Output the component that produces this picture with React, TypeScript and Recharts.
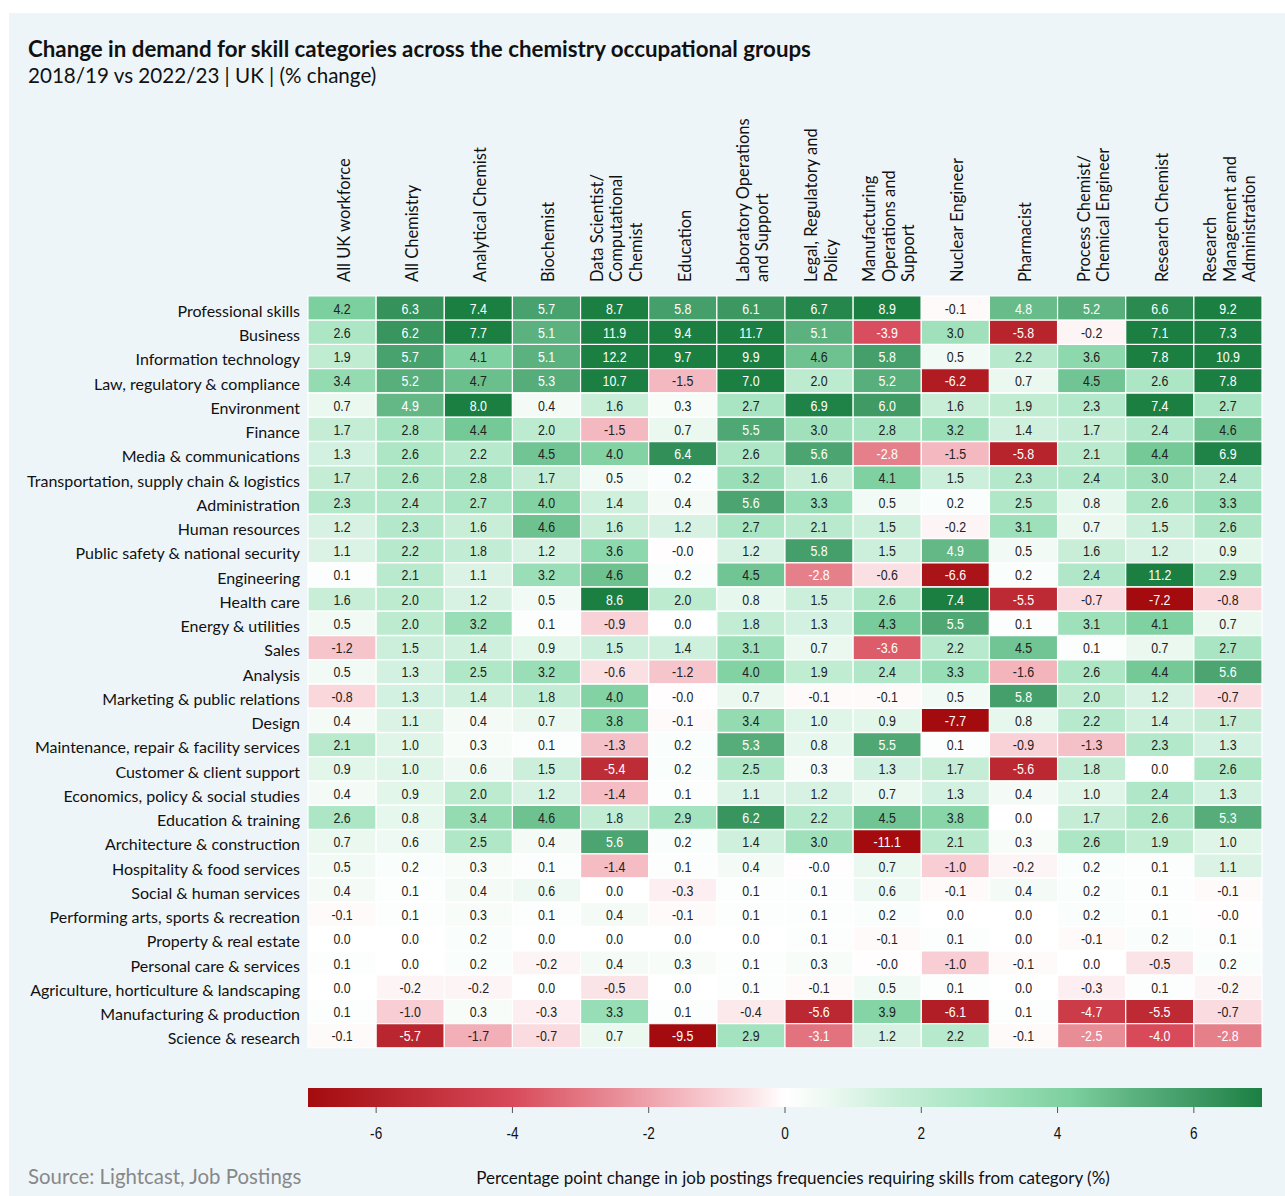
import { Bar, BarChart, Cell, LabelList, XAxis, YAxis } from "recharts";

const SKILLS = [
  "Professional skills",
  "Business",
  "Information technology",
  "Law, regulatory & compliance",
  "Environment",
  "Finance",
  "Media & communications",
  "Transportation, supply chain & logistics",
  "Administration",
  "Human resources",
  "Public safety & national security",
  "Engineering",
  "Health care",
  "Energy & utilities",
  "Sales",
  "Analysis",
  "Marketing & public relations",
  "Design",
  "Maintenance, repair & facility services",
  "Customer & client support",
  "Economics, policy & social studies",
  "Education & training",
  "Architecture & construction",
  "Hospitality & food services",
  "Social & human services",
  "Performing arts, sports & recreation",
  "Property & real estate",
  "Personal care & services",
  "Agriculture, horticulture & landscaping",
  "Manufacturing & production",
  "Science & research",
];

// column headers, already split into the lines they are drawn on
const GROUPS = [
  ["All UK workforce"],
  ["All Chemistry"],
  ["Analytical Chemist"],
  ["Biochemist"],
  ["Data Scientist/", "Computational", "Chemist"],
  ["Education"],
  ["Laboratory Operations", "and Support"],
  ["Legal, Regulatory and", "Policy"],
  ["Manufacturing", "Operations and", "Support"],
  ["Nuclear Engineer"],
  ["Pharmacist"],
  ["Process Chemist/", "Chemical Engineer"],
  ["Research Chemist"],
  ["Research", "Management and", "Administration"],
];

// one list per skill row, same order as GROUPS (-0.04 shows as "-0.0")
const CHANGES = [
  [4.2, 6.3, 7.4, 5.7, 8.7, 5.8, 6.1, 6.7, 8.9, -0.1, 4.8, 5.2, 6.6, 9.2],
  [2.6, 6.2, 7.7, 5.1, 11.9, 9.4, 11.7, 5.1, -3.9, 3.0, -5.8, -0.2, 7.1, 7.3],
  [1.9, 5.7, 4.1, 5.1, 12.2, 9.7, 9.9, 4.6, 5.8, 0.5, 2.2, 3.6, 7.8, 10.9],
  [3.4, 5.2, 4.7, 5.3, 10.7, -1.5, 7.0, 2.0, 5.2, -6.2, 0.7, 4.5, 2.6, 7.8],
  [0.7, 4.9, 8.0, 0.4, 1.6, 0.3, 2.7, 6.9, 6.0, 1.6, 1.9, 2.3, 7.4, 2.7],
  [1.7, 2.8, 4.4, 2.0, -1.5, 0.7, 5.5, 3.0, 2.8, 3.2, 1.4, 1.7, 2.4, 4.6],
  [1.3, 2.6, 2.2, 4.5, 4.0, 6.4, 2.6, 5.6, -2.8, -1.5, -5.8, 2.1, 4.4, 6.9],
  [1.7, 2.6, 2.8, 1.7, 0.5, 0.2, 3.2, 1.6, 4.1, 1.5, 2.3, 2.4, 3.0, 2.4],
  [2.3, 2.4, 2.7, 4.0, 1.4, 0.4, 5.6, 3.3, 0.5, 0.2, 2.5, 0.8, 2.6, 3.3],
  [1.2, 2.3, 1.6, 4.6, 1.6, 1.2, 2.7, 2.1, 1.5, -0.2, 3.1, 0.7, 1.5, 2.6],
  [1.1, 2.2, 1.8, 1.2, 3.6, -0.04, 1.2, 5.8, 1.5, 4.9, 0.5, 1.6, 1.2, 0.9],
  [0.1, 2.1, 1.1, 3.2, 4.6, 0.2, 4.5, -2.8, -0.6, -6.6, 0.2, 2.4, 11.2, 2.9],
  [1.6, 2.0, 1.2, 0.5, 8.6, 2.0, 0.8, 1.5, 2.6, 7.4, -5.5, -0.7, -7.2, -0.8],
  [0.5, 2.0, 3.2, 0.1, -0.9, 0.0, 1.8, 1.3, 4.3, 5.5, 0.1, 3.1, 4.1, 0.7],
  [-1.2, 1.5, 1.4, 0.9, 1.5, 1.4, 3.1, 0.7, -3.6, 2.2, 4.5, 0.1, 0.7, 2.7],
  [0.5, 1.3, 2.5, 3.2, -0.6, -1.2, 4.0, 1.9, 2.4, 3.3, -1.6, 2.6, 4.4, 5.6],
  [-0.8, 1.3, 1.4, 1.8, 4.0, -0.04, 0.7, -0.1, -0.1, 0.5, 5.8, 2.0, 1.2, -0.7],
  [0.4, 1.1, 0.4, 0.7, 3.8, -0.1, 3.4, 1.0, 0.9, -7.7, 0.8, 2.2, 1.4, 1.7],
  [2.1, 1.0, 0.3, 0.1, -1.3, 0.2, 5.3, 0.8, 5.5, 0.1, -0.9, -1.3, 2.3, 1.3],
  [0.9, 1.0, 0.6, 1.5, -5.4, 0.2, 2.5, 0.3, 1.3, 1.7, -5.6, 1.8, 0.0, 2.6],
  [0.4, 0.9, 2.0, 1.2, -1.4, 0.1, 1.1, 1.2, 0.7, 1.3, 0.4, 1.0, 2.4, 1.3],
  [2.6, 0.8, 3.4, 4.6, 1.8, 2.9, 6.2, 2.2, 4.5, 3.8, 0.0, 1.7, 2.6, 5.3],
  [0.7, 0.6, 2.5, 0.4, 5.6, 0.2, 1.4, 3.0, -11.1, 2.1, 0.3, 2.6, 1.9, 1.0],
  [0.5, 0.2, 0.3, 0.1, -1.4, 0.1, 0.4, -0.04, 0.7, -1.0, -0.2, 0.2, 0.1, 1.1],
  [0.4, 0.1, 0.4, 0.6, 0.0, -0.3, 0.1, 0.1, 0.6, -0.1, 0.4, 0.2, 0.1, -0.1],
  [-0.1, 0.1, 0.3, 0.1, 0.4, -0.1, 0.1, 0.1, 0.2, 0.0, 0.0, 0.2, 0.1, -0.04],
  [0.0, 0.0, 0.2, 0.0, 0.0, 0.0, 0.0, 0.1, -0.1, 0.1, 0.0, -0.1, 0.2, 0.1],
  [0.1, 0.0, 0.2, -0.2, 0.4, 0.3, 0.1, 0.3, -0.04, -1.0, -0.1, 0.0, -0.5, 0.2],
  [0.0, -0.2, -0.2, 0.0, -0.5, 0.0, 0.1, -0.1, 0.5, 0.1, 0.0, -0.3, 0.1, -0.2],
  [0.1, -1.0, 0.3, -0.3, 3.3, 0.1, -0.4, -5.6, 3.9, -6.1, 0.1, -4.7, -5.5, -0.7],
  [-0.1, -5.7, -1.7, -0.7, 0.7, -9.5, 2.9, -3.1, 1.2, 2.2, -0.1, -2.5, -4.0, -2.8],
];

const SCALE_TICKS = [-6, -4, -2, 0, 2, 4, 6];
const SCALE_DOMAIN: [number, number] = [-7, 7];

// diverging red - white - green palette
const COLOR_STOPS: [number, string][] = [
  [-7, "#a30b0e"],
  [-5.8, "#b7242c"],
  [-4.0, "#d84a5a"],
  [-2.8, "#e57f8a"],
  [-1.5, "#f4b8c0"],
  [-0.5, "#fbe4e7"],
  [0, "#ffffff"],
  [0.5, "#f1faf5"],
  [1.6, "#c8eed8"],
  [2.8, "#a6e4c1"],
  [4.2, "#7ccf9e"],
  [5.1, "#5cb27f"],
  [6.3, "#35925b"],
  [7, "#1b7f42"],
];

const FONT = "Lato, 'Noto Sans', sans-serif";
const NUM_FONT = "'Liberation Sans', Arial, sans-serif";

function hex(c: string) {
  return [1, 3, 5].map((i) => parseInt(c.slice(i, i + 2), 16));
}

function colorFor(v: number) {
  if (v <= COLOR_STOPS[0][0]) return COLOR_STOPS[0][1];
  const last = COLOR_STOPS[COLOR_STOPS.length - 1];
  if (v >= last[0]) return last[1];
  for (let i = 1; i < COLOR_STOPS.length; i++) {
    const [v1, c1] = COLOR_STOPS[i];
    if (v <= v1) {
      const [v0, c0] = COLOR_STOPS[i - 1];
      const t = (v - v0) / (v1 - v0);
      const a = hex(c0);
      const b = hex(c1);
      const m = a.map((x, k) => Math.round(x + (b[k] - x) * t));
      return `rgb(${m[0]},${m[1]},${m[2]})`;
    }
  }
  return last[1];
}

const rows = SKILLS.map((skill, i) => {
  const row: Record<string, any> = { skill };
  GROUPS.forEach((_, j) => {
    row[`w${j}`] = 1;
    row[`v${j}`] = CHANGES[i][j];
  });
  return row;
});

const colTicks = GROUPS.map((_, j) => j + 0.5);

function GroupTick(props: any) {
  const { x, y, payload } = props;
  const lines = GROUPS[Math.floor(payload.value)];
  const n = lines.length;
  return (
    <g>
      {lines.map((line, k) => {
        const lx = x + (k - (n - 1) / 2) * 19.5 + 2;
        return (
          <text
            key={k}
            transform={`translate(${lx}, ${y - 6}) rotate(-90)`}
            textAnchor="start"
            dy="0.35em"
            fontSize={16.5}
            fill="#111"
            fontFamily={FONT}
          >
            {line}
          </text>
        );
      })}
    </g>
  );
}

function SkillTick(props: any) {
  const { x, y, payload } = props;
  return (
    <text x={x} y={y + 3} dy="0.35em" textAnchor="end" fontSize={16} fill="#111" fontFamily={FONT}>
      {payload.value}
    </text>
  );
}

// narrow numerals: regular sans squeezed horizontally
function CellLabel(props: any) {
  const { x, y, width, height, value } = props;
  const v = Number(value);
  const light = v >= 4.75 || v <= -2.2;
  return (
    <text
      transform={`translate(${x + width / 2}, ${y + height / 2}) scale(0.8, 1)`}
      dy="0.36em"
      textAnchor="middle"
      fontSize={15.5}
      fill={light ? "#ffffff" : "#222"}
      fontFamily={NUM_FONT}
    >
      {v.toFixed(1)}
    </text>
  );
}

function ScaleTick(props: any) {
  const { x, y, payload } = props;
  return (
    <text
      transform={`translate(${x}, ${y + 18}) scale(0.8, 1)`}
      dy="0.35em"
      textAnchor="middle"
      fontSize={17}
      fill="#111"
      fontFamily={NUM_FONT}
    >
      {payload.value}
    </text>
  );
}

const scaleData = [{ name: "scale", span: SCALE_DOMAIN }];

export default function App() {
  return (
    <div style={{ position: "absolute", left: 0, top: 0, width: 1285, height: 1196, background: "#fff", overflow: "hidden" }}>
      <div style={{ position: "absolute", left: 9, top: 13, right: 0, bottom: 0, background: "#eef5f9" }} />
      <div
        style={{ position: "absolute", left: 28, top: 35, fontFamily: FONT, fontWeight: 700, fontSize: 22.3, color: "#111", whiteSpace: "nowrap" }}
      >
        Change in demand for skill categories across the chemistry occupational groups
      </div>
      <div style={{ position: "absolute", left: 28, top: 63, fontFamily: FONT, fontSize: 20.6, color: "#111", whiteSpace: "nowrap" }}>
        2018/19 vs 2022/23 | UK | (% change)
      </div>

      <div style={{ position: "absolute", left: 0, top: 0 }}>
        <BarChart
          layout="vertical"
          width={1285}
          height={1060}
          data={rows}
          margin={{ top: 96, right: 23, bottom: 12, left: 0 }}
          barCategoryGap={0}
        >
          <XAxis
            type="number"
            orientation="top"
            domain={[0, GROUPS.length]}
            ticks={colTicks}
            interval={0}
            height={200}
            axisLine={false}
            tickLine={false}
            tick={<GroupTick />}
          />
          <YAxis
            type="category"
            dataKey="skill"
            width={308}
            interval={0}
            axisLine={false}
            tickLine={false}
            tick={<SkillTick />}
          />
          {GROUPS.map((_, j) => (
            <Bar key={j} dataKey={`w${j}`} stackId="grid" isAnimationActive={false} stroke="#ffffff" strokeWidth={1.2}>
              {rows.map((r, i) => (
                <Cell key={i} fill={colorFor(r[`v${j}`])} />
              ))}
              <LabelList dataKey={`v${j}`} content={<CellLabel />} />
            </Bar>
          ))}
        </BarChart>
      </div>

      <div style={{ position: "absolute", left: 0, top: 1078 }}>
        <BarChart
          layout="vertical"
          width={1285}
          height={80}
          data={scaleData}
          margin={{ top: 10, right: 23, bottom: 11, left: 308 }}
          barCategoryGap={0}
        >
          <defs>
            <linearGradient id="scaleGrad" x1="0" y1="0" x2="1" y2="0">
              {COLOR_STOPS.map(([v, c]) => (
                <stop key={v} offset={(v - SCALE_DOMAIN[0]) / (SCALE_DOMAIN[1] - SCALE_DOMAIN[0])} stopColor={c} />
              ))}
            </linearGradient>
          </defs>
          <XAxis
            type="number"
            domain={SCALE_DOMAIN}
            ticks={SCALE_TICKS}
            interval={0}
            height={40}
            axisLine={false}
            tickLine={{ stroke: "#555" }}
            tickSize={6}
            tick={<ScaleTick />}
          />
          <YAxis type="category" dataKey="name" hide />
          <Bar dataKey="span" fill="url(#scaleGrad)" isAnimationActive={false} />
        </BarChart>
      </div>

      <div style={{ position: "absolute", left: 28, top: 1164, fontFamily: FONT, fontSize: 20.4, color: "#888", whiteSpace: "nowrap" }}>
        Source: Lightcast, Job Postings
      </div>
      <div
        style={{
          position: "absolute",
          left: 316,
          width: 954,
          top: 1167,
          textAlign: "center",
          fontFamily: FONT,
          fontSize: 17,
          color: "#111",
          whiteSpace: "nowrap",
        }}
      >
        Percentage point change in job postings frequencies requiring skills from category (%)
      </div>
    </div>
  );
}
